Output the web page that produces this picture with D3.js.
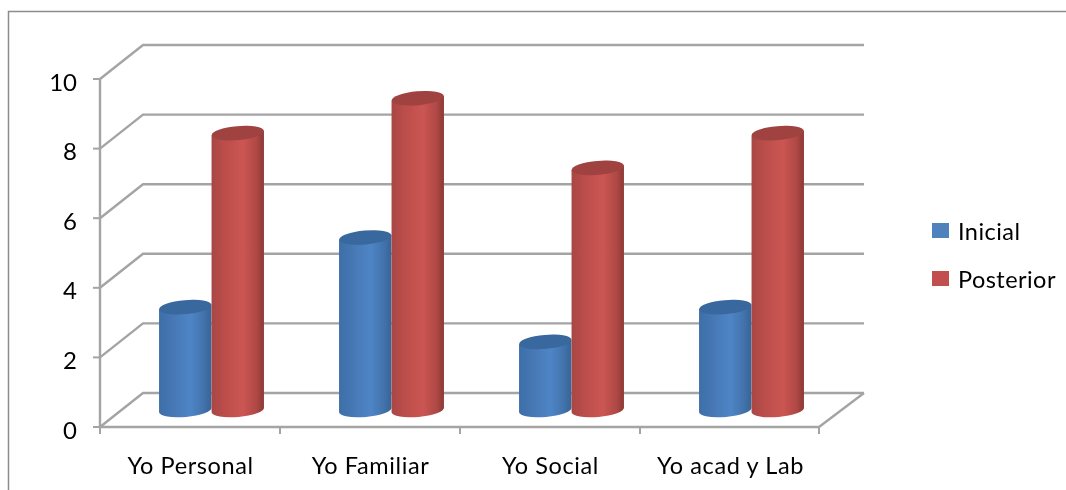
<!DOCTYPE html>
<html><head><meta charset="utf-8">
<script src="https://cdn.jsdelivr.net/npm/d3@7"></script>
<style>html,body{margin:0;padding:0;background:#fff}svg{display:block}text{font-family:Lato,"Open Sans",sans-serif;fill:#000}</style>
</head><body><svg id="c" width="1066" height="490"></svg>
<script>
const categories = ["Yo Personal","Yo Familiar","Yo Social","Yo acad y Lab"];
const seriesNames = ["Inicial","Posterior"];
const inicial = [3,5,2,3];
const posterior = [8,9,7,8];
const yTicks = [0,2,4,6,8,10];

const svg = d3.select("#c");
const defs = svg.append("defs");
const soft = defs.append("filter").attr("id","soft");
soft.append("feGaussianBlur").attr("stdDeviation",0.6);
const softT = defs.append("filter").attr("id","softT");
softT.append("feGaussianBlur").attr("stdDeviation",0.3);
function grad(id,stops){
  const g=defs.append("linearGradient").attr("id",id).attr("x1",0).attr("x2",1).attr("y1",0).attr("y2",0);
  stops.forEach(s=>g.append("stop").attr("offset",s[0]).attr("stop-color",s[1]));
}
grad("g0",[[0,"#3d6fa8"],[0.25,"#4677b3"],[0.6,"#4f85c6"],[0.85,"#4273ac"],[1,"#356496"]]);
grad("g1",[[0,"#a84643"],[0.25,"#bb4e4b"],[0.6,"#cb5552"],[0.85,"#b04946"],[1,"#8e3836"]]);
const topFill=["#38679e","#a04240"];
const legendFill=["#4f81bd","#c0504d"];

const x = d3.scaleBand().domain(categories).range([100,820]);
const y = d3.scaleLinear().domain([0,10]).range([427,79]);
const depthX = 43, depthY = 34;
const barW = 52.5, rx = 26.2, ry = 7;
const grey = "#a4a4a4";

const root = svg.append("g");
root.append("path").attr("d","M8.5,490V11.5H1066").attr("fill","none").attr("stroke","#8c8c8c").attr("stroke-width",1.5);

const plot = root.append("g").attr("filter","url(#soft)");
plot.selectAll("path.grid").data(yTicks).join("path").attr("class","grid")
  .attr("fill","none").attr("stroke",grey).attr("stroke-width",2.4)
  .attr("d",t=>`M${x.range()[0]},${y(t)}L${x.range()[0]+depthX},${y(t)-depthY}H${x.range()[1]+depthX+1}`);
plot.append("path").attr("fill","none").attr("stroke",grey).attr("stroke-width",2.4)
  .attr("d",`M${x.range()[1]+depthX+1},${y(0)-depthY}L${x.range()[1]-1},${y(0)}H${x.range()[0]}V${y(10)}`);
plot.selectAll("line.yt").data(yTicks).join("line").attr("class","yt")
  .attr("x1",93).attr("x2",100).attr("y1",d=>y(d)).attr("y2",d=>y(d)).attr("stroke",grey).attr("stroke-width",2);
plot.selectAll("line.xt").data(d3.range(5)).join("line").attr("class","xt")
  .attr("x1",i=>100+i*x.bandwidth()-(i==4?1:0)).attr("x2",i=>100+i*x.bandwidth()-(i==4?1:0))
  .attr("y1",427).attr("y2",434).attr("stroke",grey).attr("stroke-width",2);

const rows = categories.map((c,i)=>[{c,s:0,v:inicial[i]},{c,s:1,v:posterior[i]}]).flat();
const bars = plot.selectAll("g.bar").data(rows).join("g").attr("class","bar");
const cx = d => x(d.c)+x.bandwidth()/2+depthX/2+(d.s===0?-barW/2:barW/2);
const yd = v => y(v)-depthY/2+1.5;
const yb = y(0)-depthY/2;
const tilt = 0.09;
bars.append("path").attr("fill",d=>`url(#g${d.s})`)
  .attr("d",d=>{
    const c=cx(d), l=c-rx, r=c+rx, t=yd(d.v);
    return `M${l},${t+rx*tilt}L${l},${yb+rx*tilt}A${rx},${ry} -5 0 0 ${r},${yb-rx*tilt}L${r},${t-rx*tilt}Z`;
  });
bars.append("ellipse").attr("fill",d=>topFill[d.s])
  .attr("rx",rx).attr("ry",ry)
  .attr("transform",d=>`translate(${cx(d)},${yd(d.v)}) rotate(-5)`);

const labels = root.append("g").attr("filter","url(#softT)");
labels.selectAll("text.yl").data(yTicks).join("text").attr("class","yl")
  .attr("x",77).attr("y",d=>y(d)+11.5).attr("text-anchor","end").attr("font-size",24).text(d=>d);
labels.selectAll("text.xl").data(categories).join("text").attr("class","xl")
  .attr("x",d=>x(d)+x.bandwidth()/2+0.5).attr("y",474).attr("text-anchor","middle")
  .attr("font-size",23.5).attr("letter-spacing",0.6).text(d=>d);

const leg = labels.selectAll("g.leg").data(seriesNames).join("g").attr("class","leg")
  .attr("transform",(d,i)=>`translate(932,${223+i*48})`);
leg.append("rect").attr("width",17).attr("height",15).attr("fill",(d,i)=>legendFill[i]);
leg.append("text").attr("x",26).attr("y",16.5).attr("font-size",23.5).attr("letter-spacing",0.45).text(d=>d);
</script></body></html>
